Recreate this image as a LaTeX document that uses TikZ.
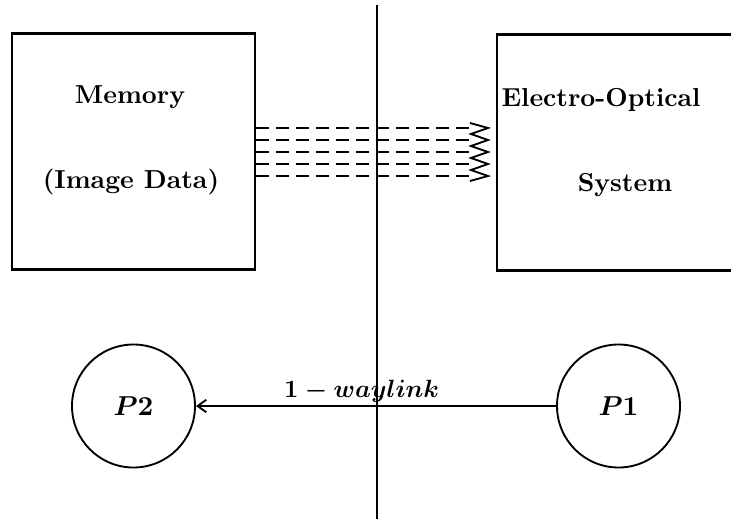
\documentclass[tikz,border=0pt]{standalone}
\usepackage{tikz}
\usepackage{amsmath}
\usetikzlibrary{arrows.meta, positioning, calc}

\begin{document}
\begin{tikzpicture}[
        x=0.4pt, y=-0.4pt,
        box/.style={rectangle, draw=black, line width=0.9pt, minimum width=97.2pt,
        minimum height=94.4pt, inner sep=0pt},
        proc/.style={circle, draw=black, line width=0.75pt, minimum size=49.2pt,
        inner sep=0pt, font=\fontsize{10.5}{12}\selectfont\boldmath},
        lbl/.style={font=\fontsize{10.4}{12}\selectfont\bfseries, inner sep=0pt},
        divider/.style={line width=0.8pt},
        signal/.style={line width=0.9pt, dash pattern=on 5.2pt off 2.8pt},
        arrow/.style={-{Straight Barb[length=3.5pt, width=5pt]}, line width=0.75pt}
    ]

        \useasboundingbox (0,0) rectangle (731,519);

        % --- boxes ---
        \node[box] (mem) at (133.5,151.5) {};
        \node[box] (eos) at (618.5,152.5) {};
        \node[lbl] (memtxt)  at (130,97)  {Memory};
        \node[lbl] (memtxt2) at (131,182) {(Image Data)};
        \node[lbl] (eostxt)  at (601,100) {Electro-Optical};
        \node[lbl] (eostxt2) at (625,185) {System};

        % --- divider ---
        \coordinate (divtop) at (377,5);
        \coordinate (divbot) at (377,519);
        \draw[divider] (divtop) -- (divbot);

        % --- optical link ---
        \foreach \i/\y in {1/128,2/140,3/152,4/164,5/176} {
            \coordinate (src\i) at (mem.east |- 0,\y);
            \coordinate (dst\i) at (470,\y);
            \draw[signal] (src\i) -- (dst\i);
        }
        \draw[line width=0.75pt] (470,123) -- (488,128) -- (471,134) -- (488,140)
            -- (471,146) -- (488,152) -- (471,158) -- (488,164) -- (471,170)
            -- (488,176) -- (470,181);

        % --- processors ---
        \node[proc] (p2) at (133.5,406) {$P2$};
        \node[proc] (p1) at (618.5,406) {$P1$};
        \draw[arrow] (p1) -- (p2)
            node[pos=0.54, above, inner sep=1pt, font=\fontsize{10.4}{12}\selectfont\boldmath] {$1 - waylink$};

    \end{tikzpicture}
\end{document}
